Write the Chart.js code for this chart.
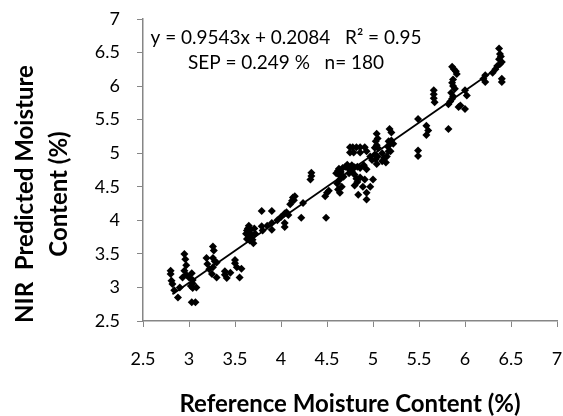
<!DOCTYPE html>
<html lang="en">
<head>
    <meta charset="UTF-8">
    <title>NIR Predicted vs Reference Moisture</title>
    <style>
        html, body { margin: 0; padding: 0; background: #fff; overflow: hidden; }
        #chart { display: block; }
    </style>
</head>
<body>
    <canvas id="chart" width="563" height="416"></canvas>

    <script src="https://cdn.jsdelivr.net/npm/chart.js@4.4.0/dist/chart.umd.js"></script>
    <script>
        // Reference moisture (x) and NIR predicted moisture (y)
        const refX = [
            2.80, 2.80, 2.81, 2.82, 2.84, 2.88, 2.90, 2.93, 2.95, 2.96, 2.97, 2.95, 2.97, 3.00, 3.03, 3.04, 3.04, 3.04, 3.02, 3.03, 3.07, 3.08,
            3.26, 3.27, 3.19, 3.26, 3.30, 3.26, 3.22, 3.25, 3.30, 3.28, 3.20, 3.39, 3.41, 3.39, 3.50, 3.50, 3.52, 3.57, 3.55, 3.45,
            3.62, 3.63, 3.64, 3.65, 3.65, 3.66, 3.67, 3.68, 3.69, 3.70, 3.66, 3.72, 3.63, 3.71,
            3.79, 3.90, 3.79, 3.90, 3.90, 3.80, 3.85, 4.04, 4.06, 4.08, 4.04, 4.04, 4.10, 4.12, 4.13, 4.15, 4.14, 4.24, 4.22, 4.00, 3.96,
            4.33, 4.32, 4.33, 4.49, 4.50, 4.48, 4.52,
            4.60, 4.62, 4.63, 4.65, 4.67, 4.64, 4.66, 4.62, 4.64, 4.61, 4.68, 4.63,
            4.70, 4.72, 4.74, 4.77, 4.80, 4.83, 4.86, 4.90, 4.93, 4.75, 4.78, 4.82, 4.86, 4.91, 4.75, 4.79, 4.86, 4.93,
            4.80, 4.82, 4.83, 4.86, 4.80, 4.91, 5.00, 4.89, 4.97, 4.84, 4.93, 4.93, 4.74, 4.77,
            5.04, 5.05, 5.03, 5.04, 5.05, 5.02, 5.17, 5.18, 5.19, 5.17, 5.16, 5.18, 5.20, 5.10, 5.12, 5.10, 5.14, 5.15,
            5.02, 5.03, 5.04, 5.05, 4.97, 4.99, 5.20, 5.22,
            5.49, 5.49, 5.49, 5.58, 5.60, 5.58, 5.66, 5.66, 5.66, 5.67,
            5.82, 5.86, 5.88, 5.87, 5.86, 5.87, 5.89, 5.85, 5.87, 5.86, 5.84, 5.93, 5.90, 5.91, 6.00, 6.02, 5.95, 6.00, 5.82,
            6.22, 6.20, 6.22, 6.37, 6.38, 6.39, 6.37, 6.40, 6.38, 6.35, 6.40, 6.40, 6.30, 6.33
        ];
        const predY = [
            3.25, 3.20, 3.10, 3.05, 2.96, 2.85, 3.00, 3.15, 3.50, 3.42, 3.33, 3.25, 3.19, 3.15, 3.21, 3.11, 3.06, 2.99, 3.02, 2.78, 2.78, 3.00,
            3.61, 3.55, 3.44, 3.44, 3.37, 3.30, 3.27, 3.20, 3.15, 3.39, 3.35, 3.24, 3.14, 3.19, 3.41, 3.36, 3.30, 3.28, 3.15, 3.22,
            3.80, 3.85, 3.88, 3.92, 3.82, 3.75, 3.86, 3.78, 3.71, 3.66, 3.70, 3.80, 3.72, 3.88,
            4.14, 4.14, 3.91, 3.96, 3.86, 3.85, 3.92, 4.10, 4.12, 4.08, 3.96, 3.90, 4.24, 4.29, 4.34, 4.36, 4.30, 4.26, 4.04, 4.05, 4.00,
            4.71, 4.61, 4.66, 4.04, 4.41, 4.36, 4.44,
            4.70, 4.74, 4.68, 4.72, 4.78, 4.61, 4.50, 4.46, 4.41, 4.55, 4.65, 4.77,
            4.80, 4.83, 4.76, 4.82, 4.79, 4.80, 4.78, 4.82, 4.76, 5.09, 5.09, 5.09, 5.09, 5.09, 5.01, 5.01, 5.01, 5.03,
            4.68, 4.62, 4.57, 4.64, 4.52, 4.61, 4.61, 4.50, 4.50, 4.38, 4.41, 4.31, 4.70, 4.73,
            5.29, 5.22, 5.18, 5.12, 5.08, 5.08, 5.18, 5.13, 5.03, 5.03, 5.10, 5.36, 5.31, 5.00, 4.93, 4.88, 4.86, 4.95,
            4.98, 4.91, 4.84, 4.95, 4.95, 4.90, 5.19, 5.14,
            5.51, 5.04, 4.96, 5.41, 5.34, 5.27, 5.94, 5.88, 5.82, 5.76,
            5.36, 6.29, 6.25, 6.10, 6.05, 6.00, 5.96, 5.90, 5.85, 5.81, 5.77, 5.69, 6.22, 6.18, 5.94, 5.86, 5.71, 5.66, 5.73,
            6.16, 6.11, 6.06, 6.56, 6.48, 6.44, 6.40, 6.36, 6.33, 6.30, 6.11, 6.06, 6.20, 6.25
        ];

        // Linear trendline shown on the chart
        const slope = 0.9543;
        const intercept = 0.2084;
        const trendX = [2.82, 6.40];

        const axisTicks = [2.5, 3, 3.5, 4, 4.5, 5, 5.5, 6, 6.5, 7];
        const equationText = 'y = 0.9543x + 0.2084   R\u00B2 = 0.95';
        const statsText = 'SEP = 0.249 %   n= 180';
        const yTitle = ['NIR  Predicted Moisture', 'Content (%)'];
        const xTitle = 'Reference Moisture Content (%)';

        const FONT = 'Lato, "Open Sans", sans-serif';
        const AXIS_GREY = '#868686';

        // Draw axis titles and the equation text
        const textPlugin = {
            id: 'chartText',
            afterDraw(chart) {
                const ctx = chart.ctx;
                ctx.save();
                ctx.fillStyle = '#000';
                ctx.textAlign = 'center';
                ctx.textBaseline = 'middle';

                ctx.font = '19px ' + FONT;
                ctx.fillText(equationText, 286, 38);
                ctx.fillText(statsText, 286, 63);

                ctx.font = 'bold 24px ' + FONT;
                ctx.fillText(xTitle, 350, 404);

                ctx.translate(0, 194);
                ctx.rotate(-Math.PI / 2);
                ctx.fillText(yTitle[0], 0, 25);
                ctx.fillText(yTitle[1], 0, 59);
                ctx.restore();
            }
        };

        function createChart() {
            const ctx = document.getElementById('chart').getContext('2d');

            const points = refX.map((x, i) => ({ x: x, y: predY[i] }));
            const trend = trendX.map(x => ({ x: x, y: slope * x + intercept }));

            const axisCommon = {
                type: 'linear',
                min: 2.5,
                max: 7,
                afterBuildTicks: scale => { scale.ticks = axisTicks.map(v => ({ value: v })); },
                grid: {
                    drawOnChartArea: false,
                    drawTicks: true,
                    tickLength: 6,
                    color: AXIS_GREY,
                    tickColor: AXIS_GREY
                },
                border: { color: AXIS_GREY, width: 1.5 },
                ticks: {
                    color: '#000',
                    font: { family: FONT, size: 18 },
                    callback: v => String(v)
                }
            };

            new Chart(ctx, {
                type: 'scatter',
                data: {
                    datasets: [
                        {
                            label: 'Samples',
                            data: points,
                            pointStyle: 'rectRot',
                            pointRadius: 4,
                            backgroundColor: '#000',
                            borderColor: '#000',
                            borderWidth: 0,
                            order: 2
                        },
                        {
                            label: 'Linear fit',
                            type: 'line',
                            data: trend,
                            borderColor: '#000',
                            borderWidth: 1.8,
                            pointRadius: 0,
                            fill: false,
                            order: 1
                        }
                    ]
                },
                options: {
                    responsive: false,
                    animation: false,
                    layout: { padding: { top: 19, right: 6, left: 0, bottom: 0 } },
                    scales: {
                        x: Object.assign({}, axisCommon, {
                            position: 'bottom',
                            afterFit: scale => {
                                scale.height = 95;
                                // keep the tick padding from shrinking the plot width
                                scale.paddingLeft = 0;
                                scale.paddingRight = 0;
                            },
                            ticks: Object.assign({}, axisCommon.ticks, { padding: 21, maxRotation: 0 })
                        }),
                        y: Object.assign({}, axisCommon, {
                            position: 'left',
                            afterFit: scale => {
                                scale.width = 143;
                                scale.paddingTop = 0;
                                scale.paddingBottom = 0;
                            },
                            ticks: Object.assign({}, axisCommon.ticks, { padding: 17 })
                        })
                    },
                    plugins: {
                        legend: { display: false },
                        tooltip: { enabled: false }
                    }
                },
                plugins: [textPlugin]
            });
        }

        document.addEventListener('DOMContentLoaded', createChart);
    </script>
</body>
</html>
